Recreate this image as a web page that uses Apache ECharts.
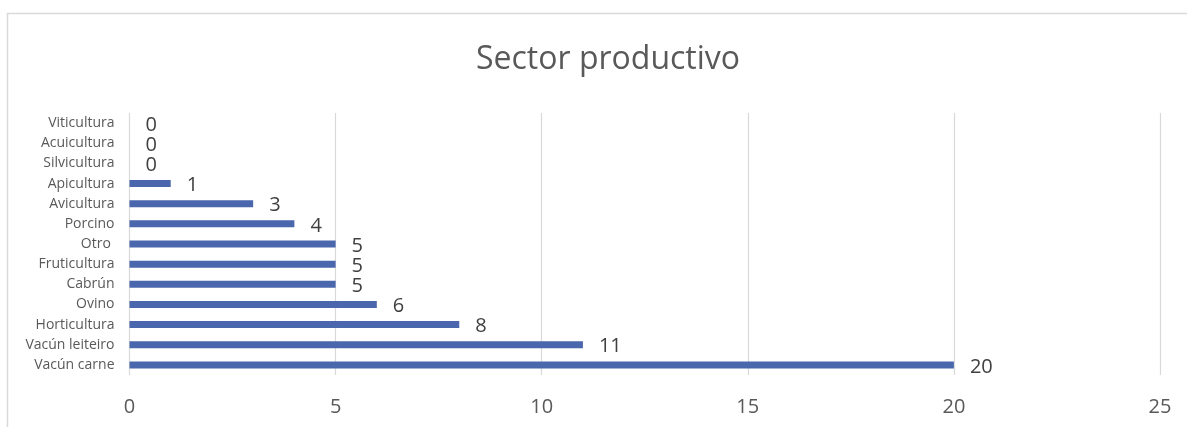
<!DOCTYPE html>
<html>
<head>
<meta charset="utf-8">
<script src="https://cdn.jsdelivr.net/npm/echarts@6/dist/echarts.min.js"></script>
<style>
html,body{margin:0;padding:0;background:#fff;}
#c{width:1187px;height:427px;}
</style>
</head>
<body>
<div id="c"></div>
<script>
const titleText = "Sector productivo";
const categories = ["Viticultura","Acuicultura","Silvicultura","Apicultura","Avicultura","Porcino","Otro ","Fruticultura","Cabrún","Ovino","Horticultura","Vacún leiteiro","Vacún carne"];
const values = [0,0,0,1,3,4,5,5,5,6,8,11,20];
const xTicks = {min:0, max:25, interval:5};

const chart = echarts.init(document.getElementById('c'), null, {renderer:'canvas'});
chart.setOption({
  backgroundColor:'#fff',
  animation:false,
  textStyle:{fontFamily:'"Open Sans","Noto Sans",sans-serif'},
  title:{
    text:titleText,
    left:471,
    top:39,
    textStyle:{fontSize:32,fontWeight:'normal',color:'#595959',fontFamily:'"Open Sans","Noto Sans",sans-serif'}
  },
  graphic:[{
    type:'rect',
    shape:{x:7.5,y:13.5,width:1400,height:600},
    style:{fill:'none',stroke:'#d9d9d9',lineWidth:1.5},
    silent:true,
    z:-1
  }],
  grid:{left:129.5,right:27,top:113,bottom:52,containLabel:false},
  xAxis:{
    type:'value',
    min:xTicks.min,max:xTicks.max,interval:xTicks.interval,
    axisLine:{show:false},
    axisTick:{show:false},
    splitLine:{show:true,lineStyle:{color:'#d9d9d9',width:1.2}},
    axisLabel:{fontSize:20,color:'#595959',margin:22,fontFamily:'"Open Sans","Noto Sans",sans-serif'}
  },
  yAxis:{
    type:'category',
    data:categories,
    inverse:true,
    axisLine:{show:false},
    axisTick:{show:false},
    splitLine:{show:false},
    axisLabel:{fontSize:14,color:'#595959',margin:15,fontFamily:'"Open Sans","Noto Sans",sans-serif'}
  },
  series:[{
    type:'bar',
    data:values,
    barWidth:7,
    itemStyle:{color:'#4a66ac'},
    label:{
      show:true,
      position:'right',
      distance:16,
      offset:[0,2],
      fontSize:20,
      color:'#404040',
      fontFamily:'"Open Sans","Noto Sans",sans-serif'
    }
  }]
});
</script>
</body>
</html>
